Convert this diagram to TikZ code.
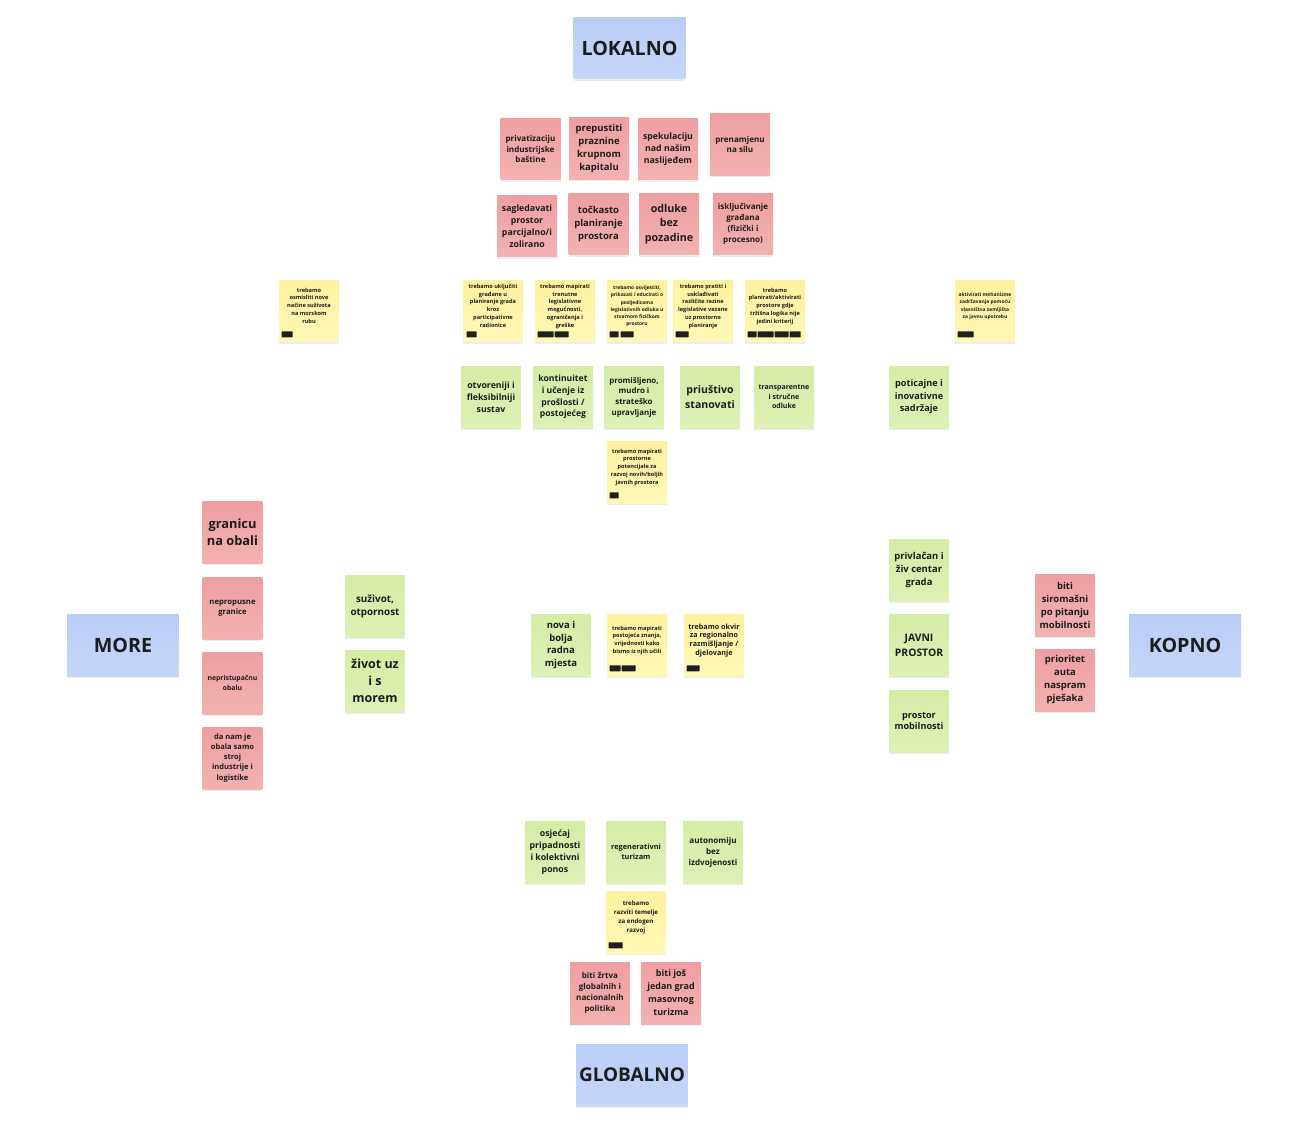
\documentclass[tikz,border=0pt]{standalone}
\usepackage{fontspec}
\setmainfont{Open Sans}
\usetikzlibrary{shadows}

\definecolor{crvenagore}{RGB}{239,158,161}
\definecolor{crvenadolje}{RGB}{242,178,177}
\definecolor{zelenagore}{RGB}{213,236,165}
\definecolor{zelenadolje}{RGB}{222,240,182}
\definecolor{zutagore}{RGB}{254,242,158}
\definecolor{zutadolje}{RGB}{255,247,182}
\definecolor{plavagore}{RGB}{185,205,246}
\definecolor{plavadolje}{RGB}{197,215,249}
\definecolor{tekst}{RGB}{28,28,28}

\newcommand{\slova}[2]{\fontsize{#1}{#2}\selectfont\bfseries}
% male crne oznake na zutim papiricima
\newcommand{\oznake}[2]{%
  \foreach \x/\w in {#2}{%
    \fill[oznaka] ([xshift=\x*0.02cm, yshift=0.1cm]#1.south west) rectangle ++(\w*0.02cm,0.12cm);}}

\tikzset{
  papir/.style={minimum width=1.2cm, minimum height=1.24cm, inner sep=1pt, align=center, text=tekst,
    drop shadow={shadow xshift=0pt, shadow yshift=-1pt, opacity=0.14}},
  crvena/.style={papir, top color=crvenagore, bottom color=crvenadolje},
  zelena/.style={papir, top color=zelenagore, bottom color=zelenadolje},
  zuta/.style={papir, top color=zutagore, bottom color=zutadolje, text depth=6pt, font=\slova{3.2}{4.5}},
  plava/.style={papir, minimum width=2.24cm, inner sep=0pt, top color=plavagore, bottom color=plavadolje, font=\slova{11.2}{14}},
  oznaka/.style={fill=black!88, rounded corners=0.3pt}
}

\begin{document}
\begin{tikzpicture}[x=0.02cm, y=-0.02cm]
\useasboundingbox (0,0) rectangle (1312,1126);

% glavne oznake
\node[plava] (lokalno) at (629.5,48) {LOKALNO};
\node[plava] (more) at (123,645) {MORE};
\node[plava] (kopno) at (1185,645) {KOPNO};
\node[plava, font=\slova{10.8}{14}] (globalno) at (632,1075) {GLOBALNO};

% lokalno, prvi red
\node[crvena, font=\slova{4.6}{6.2}] (privatizacija) at (530.5,149) {privatizaciju\\industrijske\\baštine};
\node[crvena, font=\slova{5.4}{7.4}] (prepustiti) at (599,148.5) {prepustiti\\praznine\\krupnom\\kapitalu};
\node[crvena, font=\slova{5.0}{6.8}] (spekulacija) at (668,149) {spekulaciju\\nad našim\\naslijeđem};
\node[crvena, font=\slova{4.6}{6.2}] (prenamjena) at (740,144.5) {prenamjenu\\na silu};
% lokalno, drugi red
\node[crvena, font=\slova{5.0}{6.8}] (sagledavati) at (527,226) {sagledavati\\prostor\\parcijalno/i\\zolirano};
\node[crvena, font=\slova{5.4}{7.4}] (tockasto) at (598.5,224) {točkasto\\planiranje\\prostora};
\node[crvena, font=\slova{6.1}{8.2}] (odluke) at (669,224) {odluke\\bez\\pozadine};
\node[crvena, font=\slova{4.6}{6.2}] (iskljucivanje) at (743,224) {isključivanje\\građana\\(fizički i\\procesno)};

% trebamo...
\node[zuta] (osmisliti) at (309,311) {trebamo\\osmisliti nove\\načine suživota\\na morskom\\rubu};
\node[zuta] (ukljuciti) at (493,311) {trebamo uključiti\\građane u\\planiranje grada\\kroz\\participativne\\radionice};
\node[zuta] (mapiratiLeg) at (565,311) {trebamo mapirati\\trenutne\\legislativne\\mogućnosti,\\ograničenja i\\greške};
\node[zuta, font=\slova{2.8}{4.1}] (osvijestiti) at (637,311) {trebamo osvijestiti,\\prikazati i educirati o\\posljedicama\\legislativnih odluka u\\stvarnom fizičkom\\prostoru};
\node[zuta] (pratiti) at (703,311) {trebamo pratiti i\\usklađivati\\različite razine\\legislative vezane\\uz prostorno\\planiranje};
\node[zuta] (planirati) at (775,311) {trebamo\\planirati/aktivirati\\prostore gdje\\tržišna logika nije\\jedini kriterij};
\node[zuta, font=\slova{2.8}{4.3}] (aktivirati) at (985,311) {aktivirati mehanizme\\zadržavanja pomoću\\vlasništva zemljišta\\za javnu upotrebu};
\oznake{osmisliti}{3/11}
\oznake{ukljuciti}{4/10}
\oznake{mapiratiLeg}{3/16, 20/14}
\oznake{osvijestiti}{3/9, 14/13}
\oznake{pratiti}{3/13}
\oznake{planirati}{3/9, 13/16, 30/14, 45/11}
\oznake{aktivirati}{3/16}

% lokalno, zeleni red
\node[zelena, font=\slova{5.0}{6.8}] (otvoreniji) at (491,397) {otvoreniji i\\fleksibilniji\\sustav};
\node[zelena, font=\slova{4.9}{6.6}] (kontinuitet) at (563,397) {kontinuitet\\i učenje iz\\prošlosti /\\postojećeg};
\node[zelena, font=\slova{4.5}{6.1}] (promisljeno) at (634,397) {promišljeno,\\mudro i\\strateško\\upravljanje};
\node[zelena, font=\slova{6.0}{8.0}] (priustivo) at (710,397) {priuštivo\\stanovati};
\node[zelena, font=\slova{4.0}{5.4}] (transparentne) at (784,397) {transparentne\\i stručne\\odluke};
\node[zelena, font=\slova{5.2}{7.1}] (poticajne) at (919,397) {poticajne i\\inovativne\\sadržaje};
\node[zuta] (prostorne) at (637,472) {trebamo mapirati\\prostorne\\potencijale za\\razvoj novih/boljih\\javnih prostora};
\oznake{prostorne}{3/9}

% more
\node[crvena, font=\slova{7.3}{9.6}] (granica) at (232.5,532) {granicu\\na obali};
\node[crvena, font=\slova{4.4}{5.7}] (nepropusne) at (232.5,608) {nepropusne\\granice};
\node[crvena, font=\slova{3.9}{5.7}] (nepristupacna) at (232.5,683) {nepristupačnu\\obalu};
\node[crvena, font=\slova{4.3}{5.7}] (strojObala) at (232.5,758) {da nam je\\obala samo\\stroj\\industrije i\\logistike};
\node[zelena, font=\slova{5.6}{7.4}] (suzivot) at (375,606) {suživot,\\otpornost};
\node[zelena, font=\slova{7.1}{9.6}] (zivot) at (375,681) {život uz\\i s\\morem};

% sredina
\node[zelena, font=\slova{5.4}{7.2}] (radnaMjesta) at (561,645) {nova i\\bolja\\radna\\mjesta};
\node[zuta] (postojeca) at (637,645) {trebamo mapirati\\postojeća znanja,\\vrijednosti kako\\bismo iz njih učili};
\node[zuta, font=\slova{4.1}{5.1}] (okvir) at (714,645) {trebamo okvir\\za regionalno\\razmišljanje /\\djelovanje};
\oznake{postojeca}{3/11, 15/14}
\oznake{okvir}{3/13}

% kopno
\node[zelena, font=\slova{5.4}{7.4}] (privlacan) at (919,570) {privlačan i\\živ centar\\grada};
\node[zelena, font=\slova{5.9}{8.5}] (javni) at (919,645) {JAVNI\\PROSTOR};
\node[zelena, font=\slova{5.2}{6.8}] (mobilnost) at (919,721) {prostor\\mobilnosti};
\node[crvena, font=\slova{5.4}{7.4}] (siromasni) at (1065,605) {biti\\siromašni\\po pitanju\\mobilnosti};
\node[crvena, font=\slova{5.4}{7.4}] (prioritet) at (1065,680) {prioritet\\auta\\naspram\\pješaka};

% globalno
\node[zelena, font=\slova{5.0}{6.8}] (pripadnost) at (555,852) {osjećaj\\pripadnosti\\i kolektivni\\ponos};
\node[zelena, font=\slova{4.2}{5.7}] (regenerativni) at (636,852) {regenerativni\\turizam};
\node[zelena, font=\slova{4.6}{6.2}] (autonomija) at (713,852) {autonomiju\\bez\\izdvojenosti};
\node[zuta, font=\slova{3.5}{5.1}] (temelji) at (636,922) {trebamo\\razviti temelje\\za endogen\\razvoj};
\oznake{temelji}{3/14}
\node[crvena, font=\slova{4.6}{6.2}] (zrtva) at (600,993) {biti žrtva\\globalnih i\\nacionalnih\\politika};
\node[crvena, font=\slova{5.1}{7.4}] (masovni) at (671,993) {biti još\\jedan grad\\masovnog\\turizma};
\end{tikzpicture}
\end{document}
